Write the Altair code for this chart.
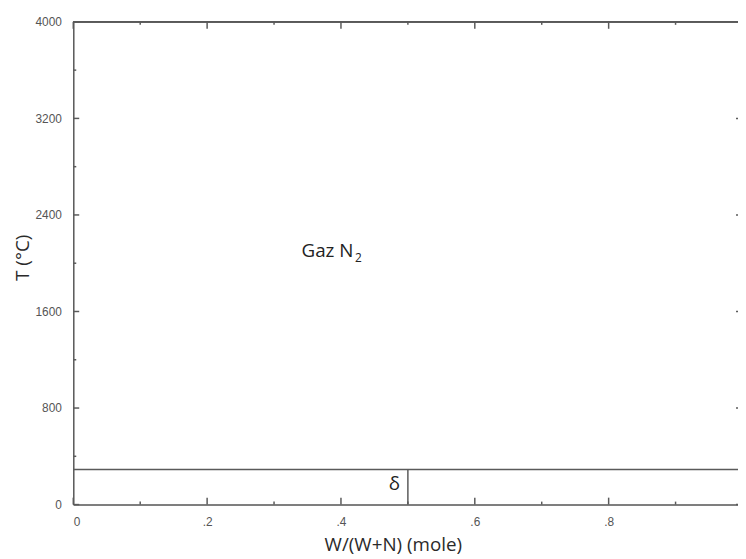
import altair as alt
import pandas as pd

# ---- data ----
x_major = [0, 0.2, 0.4, 0.6, 0.8]
x_minor = [0.1, 0.3, 0.5, 0.7, 0.9]
y_major = [0, 800, 1600, 2400, 3200, 4000]
y_minor = [400, 1200, 2000, 2800, 3600]

# phase boundaries
h_line_x = [0.0, 1.0]
h_line_T = [290, 290]
v_line_x = [0.5, 0.5]
v_line_T = [0, 290]

# region labels
gas_text = ["Gaz N"]
gas_sub = ["2"]
gas_x = [0.341]
gas_T = [2100]
delta_text = ["δ"]
delta_x = [0.4797]
delta_T = [170]

W, H = 672, 488
X_MAX = 0.9933
LINE = "#5a5a5a"
FONT = "Open Sans"

xs = alt.Scale(domain=[0, X_MAX], nice=False, zero=False)
ys = alt.Scale(domain=[0, 4000], nice=False)

label_expr_x = "datum.value == 0 ? '0' : replace(format(datum.value, '.1f'), '0.', '.')"

base_axis = dict(
    domainColor=LINE, domainWidth=1.5, ticks=False, grid=False,
    labelColor="#555555", labelFont="Liberation Sans", labelFontSize=12,
    titleFont=FONT, titleFontSize=19, titleFontWeight="normal", titleColor="#2a2a2a",
)

df_h = pd.DataFrame({"x": h_line_x, "T": h_line_T})
df_v = pd.DataFrame({"x": v_line_x, "T": v_line_T})

hline = alt.Chart(df_h).mark_line(color=LINE, strokeWidth=1.5, clip=True).encode(
    x=alt.X("x:Q", scale=xs,
            axis=alt.Axis(values=x_major, labelExpr=label_expr_x, labelPadding=12,
                          title="W/(W+N) (mole)", titleX=323, titleY=40,
                          titleBaseline="middle", titleAnchor="start", titleAlign="center",
                          **base_axis)),
    y=alt.Y("T:Q", scale=ys,
            axis=alt.Axis(values=y_major, format="d", labelPadding=12, title="T (°C)",
                          titleX=-51, titleY=238, titleAngle=270, titleAlign="center",
                          titleBaseline="middle", titleAnchor="start", **base_axis)),
)
vline = alt.Chart(df_v).mark_line(color=LINE, strokeWidth=1.5).encode(
    x=alt.X("x:Q", scale=xs), y=alt.Y("T:Q", scale=ys)
)

df_gas = pd.DataFrame({"t": gas_text, "s": gas_sub, "x": gas_x, "T": gas_T})
gas = alt.Chart(df_gas).mark_text(font=FONT, fontSize=19, color="#222222",
                                  align="left", baseline="middle").encode(
    x=alt.X("x:Q", scale=xs), y=alt.Y("T:Q", scale=ys), text="t:N"
)
gas_subscript = alt.Chart(df_gas).mark_text(font=FONT, fontSize=12, color="#222222",
                                            align="left", baseline="middle",
                                            dx=54, dy=7).encode(
    x=alt.X("x:Q", scale=xs), y=alt.Y("T:Q", scale=ys), text="s:N"
)
df_delta = pd.DataFrame({"t": delta_text, "x": delta_x, "T": delta_T})
delta = alt.Chart(df_delta).mark_text(font=FONT, fontSize=19, color="#222222",
                                      align="center", baseline="middle").encode(
    x=alt.X("x:Q", scale=xs), y=alt.Y("T:Q", scale=ys), text="t:N"
)

df_xmaj = pd.DataFrame({"x": x_major})
df_xmin = pd.DataFrame({"x": x_minor})
df_ymaj = pd.DataFrame({"T": y_major})
df_ymin = pd.DataFrame({"T": y_minor})

def xticks(df, length, top):
    if top:
        return alt.Chart(df).mark_rule(color=LINE, strokeWidth=1.5).encode(
            x=alt.X("x:Q", scale=xs), y=alt.value(0), y2=alt.value(length))
    return alt.Chart(df).mark_rule(color=LINE, strokeWidth=1.5).encode(
        x=alt.X("x:Q", scale=xs), y=alt.value(H), y2=alt.value(H - length))

def yticks(df, length, right):
    if right:
        return alt.Chart(df).mark_rule(color=LINE, strokeWidth=1.5).encode(
            y=alt.Y("T:Q", scale=ys), x=alt.value(W - length), x2=alt.value(W))
    return alt.Chart(df).mark_rule(color=LINE, strokeWidth=1.5).encode(
        y=alt.Y("T:Q", scale=ys), x=alt.value(0), x2=alt.value(length))

top_border = alt.Chart(df_xmaj).mark_rule(color=LINE, strokeWidth=1.5).encode(
    x=alt.value(0), x2=alt.value(W), y=alt.value(0))

chart = alt.layer(
    hline, vline, gas, gas_subscript, delta, top_border,
    xticks(df_xmaj, 7, False), xticks(df_xmin, 3, False),
    xticks(df_xmaj, 7, True), xticks(df_xmin, 3, True),
    yticks(df_ymaj, 6, False), yticks(df_ymin, 3, False),
    yticks(df_ymaj, 2, True),
).properties(
    width=W, height=H,
    autosize=alt.AutoSizeParams(type="none"),
    padding={"left": 66, "top": 11, "right": 0, "bottom": 52},
).configure_view(stroke=None).configure(background="white")

chart.save("out.html", embed_options={"renderer": "svg", "actions": False})
